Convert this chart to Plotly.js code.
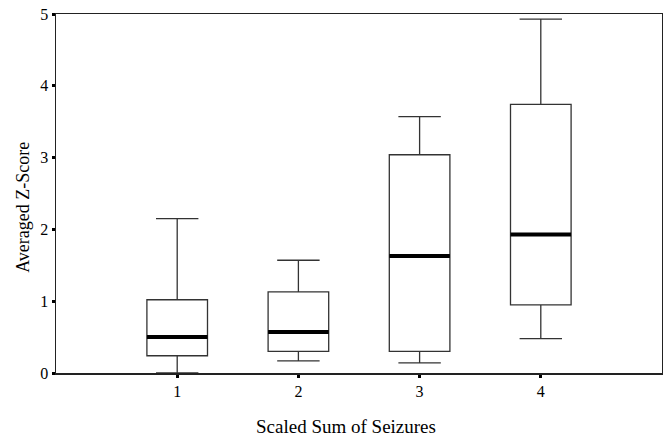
<!DOCTYPE html>
<html><head><meta charset="utf-8">
<script src="https://cdn.plot.ly/plotly-3.0.1.min.js"></script>
<style>html,body{margin:0;padding:0;background:#fff}</style>
</head><body><div id="chart" style="width:663px;height:437px"></div>
<script>
const categories = [1, 2, 3, 4];
const lowerWhisker = [0.0, 0.17, 0.14, 0.48];
const q1 = [0.24, 0.30, 0.30, 0.95];
const median = [0.50, 0.57, 1.63, 1.93];
const q3 = [1.02, 1.13, 3.04, 3.74];
const upperWhisker = [2.15, 1.57, 3.57, 4.93];
const yTicks = [0, 1, 2, 3, 4, 5];

const boxWidth = 0.5;
const medX = [], medY = [];
categories.forEach((c, i) => {
  medX.push(c - boxWidth / 2, c + boxWidth / 2, null);
  medY.push(median[i], median[i], null);
});

const traces = [
  {
    type: 'box', x: categories, q1: q1, median: median, q3: q3,
    lowerfence: lowerWhisker, upperfence: upperWhisker,
    width: boxWidth, whiskerwidth: 0.7,
    fillcolor: 'rgba(255,255,255,1)',
    line: {color: '#333333', width: 1.3},
    boxpoints: false, hoverinfo: 'skip', showlegend: false
  },
  {
    type: 'scatter', mode: 'lines', x: medX, y: medY,
    line: {color: '#000000', width: 4}, hoverinfo: 'skip', showlegend: false
  }
];

const font = {family: '"Liberation Serif", "Times New Roman", serif', color: '#000'};

const layout = {
  width: 663, height: 437,
  margin: {l: 56, r: 1, t: 14, b: 64},
  paper_bgcolor: '#fff', plot_bgcolor: '#fff',
  showlegend: false,
  font: Object.assign({size: 16}, font),
  xaxis: {
    range: [0, 5], tickvals: categories, ticktext: categories.map(String),
    showgrid: false, zeroline: false, showline: true, linecolor: '#222', linewidth: 1.5,
    mirror: true,
    ticks: 'outside', ticklen: 3, tickwidth: 3, tickcolor: '#000',
    tickfont: Object.assign({size: 16}, font)
  },
  yaxis: {
    range: [0, 5], tickvals: yTicks, ticktext: yTicks.map(String),
    showgrid: false, zeroline: false, showline: true, linecolor: '#222', linewidth: 1.5,
    mirror: true,
    ticks: 'outside', ticklen: 3, tickwidth: 3, tickcolor: '#000',
    tickfont: Object.assign({size: 16}, font)
  },
  annotations: [
    {
      text: 'Scaled Sum of Seizures', xref: 'paper', yref: 'paper',
      x: 0.478, y: 0, yshift: -53, xanchor: 'center', yanchor: 'middle', showarrow: false,
      font: Object.assign({size: 19}, font)
    },
    {
      text: 'Averaged Z-Score', xref: 'paper', yref: 'paper', textangle: -90,
      x: 0, xshift: -33, y: 0.46, xanchor: 'center', yanchor: 'middle', showarrow: false,
      font: Object.assign({size: 18}, font)
    }
  ]
};

Plotly.newPlot('chart', traces, layout, {displayModeBar: false, staticPlot: true});
</script></body></html>
